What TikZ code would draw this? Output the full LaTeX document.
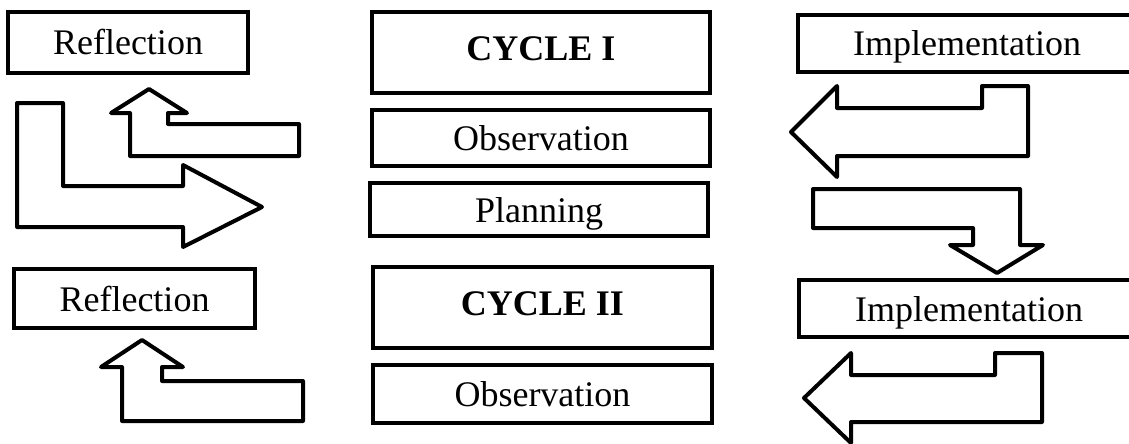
\documentclass[tikz,border=0pt]{standalone}
\usepackage{fontspec}
\setmainfont{Liberation Serif}
\usepackage{tikz}
\usetikzlibrary{arrows.meta,shapes,calc}

\begin{document}
\begin{tikzpicture}[x=1pt,y=-1pt]
            \tikzset{stage/.style = {draw, line width=4.5pt, inner sep=0pt,
                font=\fontsize{36}{40}\selectfont, text height=25pt, text depth=0pt}}
            \tikzset{cycle/.style = {stage, font=\fontsize{36}{40}\selectfont\bfseries, text depth=10pt}}
            \tikzset{blockarrow/.style = {draw, line width=4pt, line join=round}}
            \useasboundingbox (0,0) rectangle (1129,444);

            % boxes
            \node[stage, minimum width=240, minimum height=61] (refl1) at (128,42.5) {Reflection};
            \node[stage, minimum width=241, minimum height=59] (refl2) at (134.5,298.5) {Reflection};
            \node[cycle, minimum width=338, minimum height=81] (cyc1) at (541,52.5) {CYCLE I\hspace{20pt}};
            \node[stage, minimum width=338, minimum height=56] (obs1) at (541,138) {Observation};
            \node[stage, minimum width=338, minimum height=53] (plan) at (539,209.5) {Planning};
            \node[cycle, minimum width=339, minimum height=81] (cyc2) at (542.5,307.5) {CYCLE II};
            \node[stage, minimum width=339, minimum height=58] (obs2) at (542.5,394) {Observation};
            \node[stage, minimum width=338, minimum height=57] (impl1) at (967,43.5) {Implementation};
            \node[stage, minimum width=340, minimum height=57] (impl2) at (969,308.5) {Implementation};

            % arrows
            \draw[blockarrow] (130,156) -- (130,113) -- (111,113) -- (149,89) -- (187,113)
                -- (168,113) -- (168,124) -- (299,124) -- (299,156) -- cycle;
            \draw[blockarrow] (17,103) -- (63,103) -- (63,186) -- (183,186) -- (183,165)
                -- (262,207) -- (183,247) -- (183,227) -- (17,227) -- cycle;
            \draw[blockarrow] (122,421) -- (122,367) -- (101,367) -- (142,340) -- (183,367)
                -- (162,367) -- (162,381) -- (303,381) -- (303,421) -- cycle;
            \draw[blockarrow] (791,132) -- (837,86) -- (837,108) -- (982,108) -- (982,86)
                -- (1028,86) -- (1028,156) -- (837,156) -- (837,177) -- cycle;
            \draw[blockarrow] (813,189) -- (1020,189) -- (1020,245) -- (1043,245) -- (997,273)
                -- (950,245) -- (973,245) -- (973,228) -- (813,228) -- cycle;
            \draw[blockarrow] (804,398) -- (851,353) -- (851,375) -- (995,375) -- (995,353)
                -- (1042,353) -- (1042,422) -- (851,422) -- (851,443) -- cycle;

          \end{tikzpicture}
\end{document}
